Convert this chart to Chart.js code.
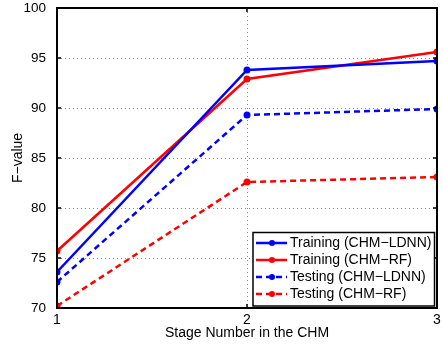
<!DOCTYPE html>
<html>
<head>
<meta charset="utf-8">
<script src="https://cdn.jsdelivr.net/npm/chart.js@4.4.1/dist/chart.umd.min.js"></script>
<style>
	html, body { margin: 0; padding: 0; background: #fff; }
	#wrap { width: 443px; height: 345px; }
</style>
</head>
<body>
<div id="wrap"><canvas id="chart_fvalue"></canvas></div>
<script>
const stages = [1, 2, 3];
const labels = ["Training (CHM\u2212LDNN)", "Training (CHM\u2212RF)", "Testing (CHM\u2212LDNN)", "Testing (CHM\u2212RF)"];
const train_ldnn = [73.6, 93.8, 94.7];
const train_rf = [75.7, 92.9, 95.6];
const test_ldnn = [72.6, 89.3, 89.9];
const test_rf = [70.2, 82.6, 83.1];
const x_title = "Stage Number in the CHM";
const y_title = "F\u2212value";

const font_name = "'Liberation Sans', Arial, sans-serif";
const blue = "#0000ff";
const red = "#ff0000";

const toXY = (arr) => arr.map((v, i) => ({ x: stages[i], y: v }));

const makeSet = (label, data, color, dashed) => ({
	label: label,
	data: toXY(data),
	borderColor: color,
	backgroundColor: color,
	borderWidth: 2.5,
	borderDash: dashed ? [6, 4] : [],
	pointRadius: 2.5,
	pointBorderWidth: 2,
	pointBackgroundColor: color,
	pointBorderColor: color,
	tension: 0,
});

// dotted grid under the lines
const dottedGrid = {
	id: "dottedGrid",
	beforeDatasetsDraw(chart) {
		const ctx = chart.ctx;
		const a = chart.chartArea;
		const xs = chart.scales.x;
		const ys = chart.scales.y;
		ctx.save();
		ctx.strokeStyle = "#8a8a8a";
		ctx.lineWidth = 1;
		ctx.setLineDash([1, 3]);
		ctx.beginPath();
		const gx = Math.round(xs.getPixelForValue(2)) + 0.5;
		ctx.moveTo(gx, a.top); ctx.lineTo(gx, a.bottom);
		for (let v = 75; v < 100; v += 5) {
			const py = Math.round(ys.getPixelForValue(v)) + 0.5;
			ctx.moveTo(a.left, py); ctx.lineTo(a.right, py);
		}
		ctx.stroke();
		ctx.restore();
	},
};

// frame, inward ticks, axis titles and the legend box, MATLAB style
const matlabBox = {
	id: "matlabBox",
	afterDraw(chart) {
		const ctx = chart.ctx;
		const a = chart.chartArea;
		const xs = chart.scales.x;
		const ys = chart.scales.y;
		ctx.save();
		ctx.strokeStyle = "#000";
		ctx.lineWidth = 1.5;
		ctx.setLineDash([]);
		ctx.beginPath();
		stages.forEach((v) => {
			const px = xs.getPixelForValue(v);
			ctx.moveTo(px, a.bottom); ctx.lineTo(px, a.bottom - 4);
			ctx.moveTo(px, a.top); ctx.lineTo(px, a.top + 4);
		});
		for (let v = 70; v <= 100; v += 5) {
			const py = ys.getPixelForValue(v);
			ctx.moveTo(a.left, py); ctx.lineTo(a.left + 4, py);
			ctx.moveTo(a.right, py); ctx.lineTo(a.right - 4, py);
		}
		ctx.stroke();
		ctx.lineWidth = 2;
		ctx.strokeRect(a.left, a.top, a.right - a.left, a.bottom - a.top);

		// titles
		ctx.fillStyle = "#000";
		ctx.font = "14px " + font_name;
		ctx.textAlign = "center";
		ctx.textBaseline = "middle";
		ctx.fillText(x_title, (a.left + a.right) / 2, 333);
		ctx.save();
		ctx.translate(18.5, (a.top + a.bottom) / 2);
		ctx.rotate(-Math.PI / 2);
		ctx.fillText(y_title, 0, 0);
		ctx.restore();

		// legend
		const bx = 253, by = 232.5, bw = a.right - 2.5 - bx, bh = a.bottom - 2 - by;
		ctx.fillStyle = "#fff";
		ctx.fillRect(bx, by, bw, bh);
		ctx.lineWidth = 1.5;
		ctx.strokeRect(bx, by, bw, bh);
		ctx.textAlign = "left";
		chart.data.datasets.forEach((ds, i) => {
			const ly = by + 10.5 + i * 17;
			ctx.strokeStyle = ds.borderColor;
			ctx.lineWidth = 2.5;
			ctx.setLineDash(ds.borderDash);
			ctx.beginPath();
			ctx.moveTo(bx + 3, ly);
			ctx.lineTo(bx + 34, ly);
			ctx.stroke();
			ctx.setLineDash([]);
			ctx.fillStyle = ds.borderColor;
			ctx.beginPath();
			ctx.arc(bx + 19, ly, 3, 0, Math.PI * 2);
			ctx.fill();
			ctx.fillStyle = "#000";
			ctx.fillText(ds.label, bx + 37, ly + 0.5);
		});
		ctx.restore();
	},
};

const myChart = new Chart(document.getElementById("chart_fvalue"), {
	type: "line",
	data: {
		datasets: [
			makeSet(labels[0], train_ldnn, blue, false),
			makeSet(labels[1], train_rf, red, false),
			makeSet(labels[2], test_ldnn, blue, true),
			makeSet(labels[3], test_rf, red, true),
		],
	},
	plugins: [dottedGrid, matlabBox],
	options: {
		responsive: true,
		maintainAspectRatio: false,
		animation: false,
		layout: { padding: { top: 0, right: 5, left: 0, bottom: 0 } },
		plugins: {
			legend: { display: false },
			tooltip: { enabled: false },
		},
		scales: {
			x: {
				type: "linear",
				min: 1,
				max: 3,
				ticks: {
					stepSize: 1,
					color: "#000",
					padding: -4,
					font: { family: font_name, size: 14 },
				},
				grid: { display: false },
				border: { display: false },
				afterFit: (s) => { s.height = 37; s.paddingLeft = 0; s.paddingRight = 0; },
			},
			y: {
				min: 70,
				max: 100,
				ticks: {
					stepSize: 5,
					color: "#000",
					padding: 3,
					font: { family: font_name, size: 13.5 },
				},
				grid: { display: false },
				border: { display: false },
				afterFit: (s) => { s.width = 57; s.paddingTop = 8; s.paddingBottom = 0; },
			},
		},
	},
});
</script>
</body>
</html>
